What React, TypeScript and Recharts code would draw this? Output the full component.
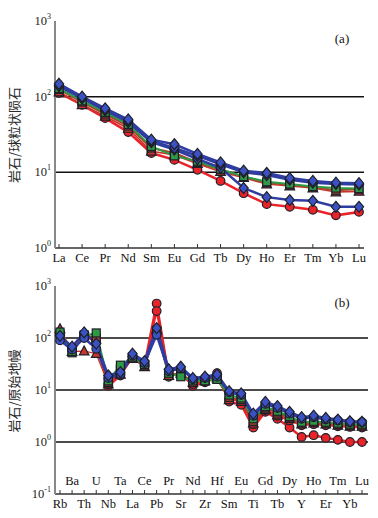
import { LineChart, Line, XAxis, YAxis, ReferenceLine } from "recharts";

// panel (a): chondrite-normalised REE
const REE = ["La", "Ce", "Pr", "Nd", "Sm", "Eu", "Gd", "Tb", "Dy", "Ho", "Er", "Tm", "Yb", "Lu"];
const reeBlueA = [148, 100, 70, 50, 27, 23.5, 17.5, 13.5, 10.5, 9.8, 8.4, 7.7, 7.3, 7.2];
const reeBlueB = [140, 97, 68, 48, 26, 21, 16.5, 12.8, 10, 9.2, 8.0, 7.3, 7.0, 6.9];
const reeBlueLow = [138, 95, 66, 46, 25, 20, 15, 11.5, 6.2, 4.7, 4.3, 4.2, 3.5, 3.5];
const reeGreen = [128, 88, 62, 43, 22, 16.5, 14, 11, 8.8, 7.5, 7.0, 6.5, 6.2, 6.1];
const reeBrown = [125, 85, 59, 41, 21, 18, 13.5, 10.8, 8.8, 7.3, 6.8, 6.4, 5.8, 6.0];
const reeRedTri = [115, 78, 55, 38, 19, 17, 13, 10.2, 8.5, 7.0, 6.6, 6.2, 5.5, 5.6];
const reeRedDot = [112, 78, 52, 34, 18, 14.6, 10.8, 7.7, 5.3, 3.8, 3.5, 3.2, 2.7, 3.0];

// panel (b): primitive-mantle-normalised spider diagram
const SPIDER = [
  "Rb", "Ba", "Th", "U", "Nb", "Ta", "La", "Ce", "Pb", "Pr", "Sr", "Nd", "Zr",
  "Hf", "Sm", "Eu", "Ti", "Gd", "Tb", "Dy", "Y", "Ho", "Er", "Tm", "Yb", "Lu",
];
const spBlueA = [110, 68, 128, 78, 19, 22, 50, 36, 155, 25, 28, 17, 18, 20, 9.5, 8.6, 3.5, 5.9, 4.9, 3.8, 3.0, 3.2, 2.9, 2.7, 2.5, 2.45];
const spBlueB = [90, 60, 100, 62, 17, 20, 46, 33, 115, 23, 26, 16, 17, 18, 9, 8, 3.2, 5.4, 4.5, 3.5, 2.8, 3.0, 2.7, 2.6, 2.4, 2.4];
const spGreen = [130, 55, 110, 125, 15, 30, 43, 31, 130, 21, 18, 15, 15, 16, 8, 7, 2.8, 4.8, 3.9, 3.1, 2.4, 2.5, 2.4, 2.3, 2.2, 2.2];
const spBrown = [120, 52, 115, 100, 14, 25, 41, 29, 140, 19, 20, 14, 15, 16, 7.2, 6.5, 2.5, 4.5, 3.6, 3.0, 2.3, 2.4, 2.3, 2.2, 2.1, 2.05];
const spRedTri = [150, 55, 56, 50, 13, 20, 40, 28, 145, 19, 21, 14, 15, 17, 6.5, 6, 2.3, 4.2, 3.3, 2.8, 2.2, 2.3, 2.2, 2.1, 2.0, 2.0];
const spRedDotA = [115, 62, 118, 88, 12, 19, 44, 30, 460, 18, 22, 12, 14, 21, 6, 5.2, 1.9, 3.8, 2.8, 1.9, 1.25, 1.35, 1.2, 1.1, 1.0, 1.0];
const spRedDotB = [125, 58, 112, 82, 13, 21, 42, 29, 330, 20, 19, 13, 15, 19, 6.8, 6.2, 2.2, 4.1, 3.2, 2.6, 2.1, 2.2, 2.1, 2.0, 1.95, 1.9];

type Shape = "circle" | "square" | "triangle" | "diamond";

interface SeriesDef {
  key: string;
  values: number[];
  stroke: string;
  fill: string;
  shape: Shape;
  width: number;
}

const BLUE = "#2f3da0";
const BLUE_FILL = "#3b52c4";
const RED = "#e8232a";
const GREEN = "#2e9a46";
const BROWN = "#a8442c";
const OUTLINE = "#1f1f28";

const reeSeries: SeriesDef[] = [
  { key: "redDot", values: reeRedDot, stroke: RED, fill: RED, shape: "circle", width: 2.5 },
  { key: "redTri", values: reeRedTri, stroke: "#c9352c", fill: "#c9352c", shape: "triangle", width: 1.6 },
  { key: "brown", values: reeBrown, stroke: BROWN, fill: BROWN, shape: "square", width: 2.2 },
  { key: "green", values: reeGreen, stroke: GREEN, fill: GREEN, shape: "square", width: 2 },
  { key: "blueLow", values: reeBlueLow, stroke: BLUE, fill: BLUE_FILL, shape: "diamond", width: 2.5 },
  { key: "blueB", values: reeBlueB, stroke: BLUE, fill: BLUE_FILL, shape: "diamond", width: 2.5 },
  { key: "blueA", values: reeBlueA, stroke: BLUE, fill: BLUE_FILL, shape: "diamond", width: 2.5 },
];

const spiderSeries: SeriesDef[] = [
  { key: "redDotA", values: spRedDotA, stroke: RED, fill: RED, shape: "circle", width: 2.5 },
  { key: "redDotB", values: spRedDotB, stroke: RED, fill: RED, shape: "circle", width: 2 },
  { key: "redTri", values: spRedTri, stroke: "#c9352c", fill: "#c9352c", shape: "triangle", width: 1.4 },
  { key: "brown", values: spBrown, stroke: BROWN, fill: BROWN, shape: "square", width: 2 },
  { key: "green", values: spGreen, stroke: GREEN, fill: GREEN, shape: "square", width: 2 },
  { key: "blueB", values: spBlueB, stroke: BLUE, fill: BLUE_FILL, shape: "circle", width: 2.5 },
  { key: "blueA", values: spBlueA, stroke: BLUE, fill: BLUE_FILL, shape: "diamond", width: 2.5 },
];

const reeData = REE.map((el, i) => {
  const row: Record<string, string | number> = { el };
  reeSeries.forEach((s) => (row[s.key] = s.values[i]));
  return row;
});

const spiderData = SPIDER.map((el, i) => {
  const row: Record<string, string | number> = { el };
  spiderSeries.forEach((s) => (row[s.key] = s.values[i]));
  return row;
});

const SERIF = "'Liberation Serif', 'DejaVu Serif', serif";

function makeDot(shape: Shape, fill: string) {
  return (props: any) => {
    const { cx, cy, index } = props;
    if (cx == null || cy == null) return <g key={index} />;
    const common = { fill, stroke: OUTLINE, strokeWidth: 1.2 };
    if (shape === "circle") return <circle key={index} cx={cx} cy={cy} r={4.3} {...common} />;
    if (shape === "square") return <rect key={index} x={cx - 4} y={cy - 4} width={8} height={8} {...common} />;
    if (shape === "triangle")
      return <polygon key={index} points={`${cx},${cy - 5} ${cx + 4.8},${cy + 3.8} ${cx - 4.8},${cy + 3.8}`} {...common} />;
    return <polygon key={index} points={`${cx},${cy - 5.5} ${cx + 4.6},${cy} ${cx},${cy + 5.5} ${cx - 4.6},${cy}`} {...common} />;
  };
}

function PowerTick({ x, y, payload }: any) {
  const exp = Math.round(Math.log10(payload.value));
  return (
    <text x={x - 4} y={y + 4} textAnchor="end" fontFamily={SERIF} fontSize={12.5} fill="#222">
      10
      <tspan dy={-6} fontSize={8}>
        {exp}
      </tspan>
    </text>
  );
}

function ReeTick({ x, y, payload }: any) {
  return (
    <g>
      <line x1={x} x2={x} y1={y} y2={y - 4} stroke="#333" strokeWidth={1} />
      <text x={x} y={y + 14} textAnchor="middle" fontFamily={SERIF} fontSize={12.5} fill="#111">
        {payload.value}
      </text>
    </g>
  );
}

function SpiderTick({ x, y, payload, index }: any) {
  const inside = index % 2 === 1;
  return (
    <g>
      <line x1={x} x2={x} y1={y} y2={y - 4} stroke="#333" strokeWidth={1} />
      <text x={x} y={inside ? y - 9 : y + 14} textAnchor="middle" fontFamily={SERIF} fontSize={12.5} fill="#111">
        {payload.value}
      </text>
    </g>
  );
}

function Panel({
  data,
  series,
  domain,
  ticks,
  grid,
  height,
  marginTop,
  marginRight,
  padding,
  Tick,
}: {
  data: Record<string, string | number>[];
  series: SeriesDef[];
  domain: [number, number];
  ticks: number[];
  grid: number[];
  height: number;
  marginTop: number;
  marginRight: number;
  padding: { left: number; right: number };
  Tick: (p: any) => any;
}) {
  return (
    <LineChart width={378} height={height} data={data} margin={{ top: marginTop, right: marginRight, bottom: 0, left: 0 }}>
      <XAxis
        dataKey="el"
        xAxisId="b"
        interval={0}
        padding={padding}
        height={24}
        tickSize={0}
        tickMargin={0}
        tickLine={false}
        axisLine={{ stroke: "#333", strokeWidth: 1.5 }}
        tick={<Tick />}
      />
      <XAxis
        dataKey="el"
        xAxisId="t"
        orientation="top"
        height={0}
        padding={padding}
        tick={false}
        tickLine={false}
        axisLine={{ stroke: "#222", strokeWidth: 1.5 }}
      />
      <YAxis
        yAxisId="l"
        scale="log"
        domain={domain}
        ticks={ticks}
        allowDataOverflow
        width={55}
        tickSize={0}
        tickMargin={0}
        tickLine={false}
        axisLine={{ stroke: "#888", strokeWidth: 2 }}
        tick={<PowerTick />}
      />
      <YAxis
        yAxisId="r"
        orientation="right"
        width={0}
        tick={false}
        tickLine={false}
        axisLine={{ stroke: "#222", strokeWidth: 1.5 }}
      />
      {grid.map((g) => (
        <ReferenceLine key={g} y={g} xAxisId="b" yAxisId="l" stroke="#111" strokeWidth={1.5} />
      ))}
      {series.map((s) => (
        <Line
          key={s.key}
          xAxisId="b"
          yAxisId="l"
          type="linear"
          dataKey={s.key}
          stroke={s.stroke}
          strokeWidth={s.width}
          dot={makeDot(s.shape, s.fill)}
          activeDot={false}
          isAnimationActive={false}
        />
      ))}
    </LineChart>
  );
}

export default function App() {
  return (
    <div style={{ position: "absolute", top: 0, left: 0, width: 378, height: 518, background: "#fff" }}>
      <div style={{ position: "absolute", top: 0, left: 0 }}>
        <Panel
          data={reeData}
          series={reeSeries}
          domain={[1, 1000]}
          ticks={[1, 10, 100, 1000]}
          grid={[10, 100]}
          height={272}
          marginTop={21}
          marginRight={14}
          padding={{ left: 4, right: 5 }}
          Tick={ReeTick}
        />
      </div>
      <div style={{ position: "absolute", top: 262, left: 0 }}>
        <Panel
          data={spiderData}
          series={spiderSeries}
          domain={[0.1, 1000]}
          ticks={[0.1, 1, 10, 100, 1000]}
          grid={[1, 10, 100]}
          height={256}
          marginTop={24}
          marginRight={10}
          padding={{ left: 5, right: 6 }}
          Tick={SpiderTick}
        />
      </div>
      <svg width={378} height={518} style={{ position: "absolute", top: 0, left: 0, pointerEvents: "none" }}>
        <text
          transform="translate(19,135) rotate(-90)"
          textAnchor="middle"
          fontFamily="'Noto Sans CJK SC', sans-serif"
          fontSize={13}
          fill="#2a2a2a"
        >
          岩石/球粒状陨石
        </text>
        <text
          transform="translate(19,391) rotate(-90)"
          textAnchor="middle"
          fontFamily="'Noto Sans CJK SC', sans-serif"
          fontSize={13}
          fill="#2a2a2a"
        >
          岩石/原始地幔
        </text>
        <text x={342} y={43} textAnchor="middle" fontFamily={SERIF} fontSize={13} fill="#111">
          (a)
        </text>
        <text x={342} y={307} textAnchor="middle" fontFamily={SERIF} fontSize={13} fill="#111">
          (b)
        </text>
      </svg>
    </div>
  );
}
